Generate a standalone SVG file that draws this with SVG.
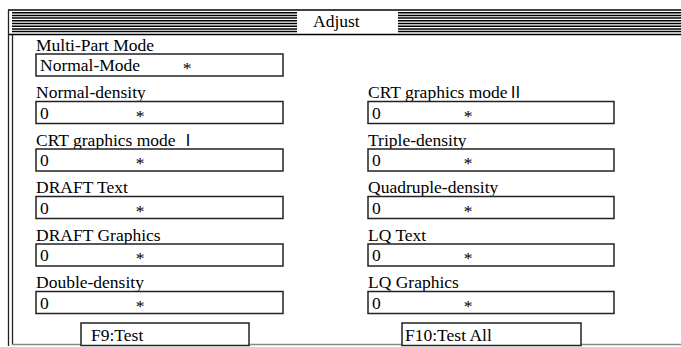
<svg xmlns="http://www.w3.org/2000/svg" width="681" height="347" viewBox="0 0 681 347">
<style>
text{font-family:"Liberation Serif","Times New Roman","DejaVu Serif",serif;font-size:17.5px;fill:#000}
.cjk{font-family:"Noto Sans CJK JP","Noto Sans CJK SC",serif;font-size:16px}
.box{fill:#fff;stroke:#222;stroke-width:1.5}
.stripe{stroke:#000;stroke-width:1.5}
</style>
<rect width="681" height="347" fill="#fff"/>
<g id="frame">
<g id="stripes-left">
<line class="stripe" x1="12" y1="12.7" x2="297" y2="12.7"/>
<line class="stripe" x1="12" y1="15.4" x2="297" y2="15.4"/>
<line class="stripe" x1="12" y1="18.1" x2="297" y2="18.1"/>
<line class="stripe" x1="12" y1="20.8" x2="297" y2="20.8"/>
<line class="stripe" x1="12" y1="23.5" x2="297" y2="23.5"/>
<line class="stripe" x1="12" y1="26.2" x2="297" y2="26.2"/>
<line class="stripe" x1="12" y1="28.9" x2="297" y2="28.9"/>
<line class="stripe" x1="12" y1="31.6" x2="297" y2="31.6"/>
</g>
<g id="stripes-right">
<line class="stripe" x1="398" y1="12.7" x2="681" y2="12.7"/>
<line class="stripe" x1="398" y1="15.4" x2="681" y2="15.4"/>
<line class="stripe" x1="398" y1="18.1" x2="681" y2="18.1"/>
<line class="stripe" x1="398" y1="20.8" x2="681" y2="20.8"/>
<line class="stripe" x1="398" y1="23.5" x2="681" y2="23.5"/>
<line class="stripe" x1="398" y1="26.2" x2="681" y2="26.2"/>
<line class="stripe" x1="398" y1="28.9" x2="681" y2="28.9"/>
<line class="stripe" x1="398" y1="31.6" x2="681" y2="31.6"/>
</g>
<line x1="8" y1="10" x2="681" y2="10" stroke="#000" stroke-width="1.5"/>
<line x1="8" y1="34.5" x2="681" y2="34.5" stroke="#000" stroke-width="1.5"/>
<line x1="8.5" y1="10" x2="8.5" y2="346" stroke="#222" stroke-width="1.3"/>
<line x1="12.5" y1="35" x2="12.5" y2="345" stroke="#222" stroke-width="1.3"/>
<line x1="12" y1="344.5" x2="681" y2="344.5" stroke="#888" stroke-width="1.3"/>
<text x="313" y="26.5">Adjust</text>
</g>

<g id="multi-part-mode">
<text x="36" y="50.5" font-size="16.5">Multi-Part Mode</text>
<rect class="box" x="36" y="54" width="247" height="22"/>
<text x="40" y="71">Normal-Mode</text>
<text x="187" y="74" text-anchor="middle">*</text>
</g>

<g id="normal-density">
<text x="36" y="98">Normal-density</text>
<rect class="box" x="36" y="101.5" width="247" height="22"/>
<text x="40" y="118.5">0</text>
<text x="140" y="121.5" text-anchor="middle">*</text>
</g>
<g id="crt-mode-1">
<text x="36" y="145.5">CRT graphics mode <tspan class="cjk">Ⅰ</tspan></text>
<rect class="box" x="36" y="149" width="247" height="22"/>
<text x="40" y="166">0</text>
<text x="140" y="169" text-anchor="middle">*</text>
</g>
<g id="draft-text">
<text x="36" y="193">DRAFT Text</text>
<rect class="box" x="36" y="196.5" width="247" height="22"/>
<text x="40" y="213.5">0</text>
<text x="140" y="216.5" text-anchor="middle">*</text>
</g>
<g id="draft-graphics">
<text x="36" y="240.5">DRAFT Graphics</text>
<rect class="box" x="36" y="244" width="247" height="22"/>
<text x="40" y="261">0</text>
<text x="140" y="264" text-anchor="middle">*</text>
</g>
<g id="double-density">
<text x="36" y="288">Double-density</text>
<rect class="box" x="36" y="291.5" width="247" height="22"/>
<text x="40" y="308.5">0</text>
<text x="140" y="311.5" text-anchor="middle">*</text>
</g>

<g id="crt-mode-2">
<text x="368" y="98">CRT graphics mode<tspan class="cjk">Ⅱ</tspan></text>
<rect class="box" x="368" y="101.5" width="246" height="22"/>
<text x="372" y="118.5">0</text>
<text x="468" y="121.5" text-anchor="middle">*</text>
</g>
<g id="triple-density">
<text x="368" y="145.5">Triple-density</text>
<rect class="box" x="368" y="149" width="246" height="22"/>
<text x="372" y="166">0</text>
<text x="468" y="169" text-anchor="middle">*</text>
</g>
<g id="quadruple-density">
<text x="368" y="193">Quadruple-density</text>
<rect class="box" x="368" y="196.5" width="246" height="22"/>
<text x="372" y="213.5">0</text>
<text x="468" y="216.5" text-anchor="middle">*</text>
</g>
<g id="lq-text">
<text x="368" y="240.5">LQ Text</text>
<rect class="box" x="368" y="244" width="246" height="22"/>
<text x="372" y="261">0</text>
<text x="468" y="264" text-anchor="middle">*</text>
</g>
<g id="lq-graphics">
<text x="368" y="288">LQ Graphics</text>
<rect class="box" x="368" y="291.5" width="246" height="22"/>
<text x="372" y="308.5">0</text>
<text x="468" y="311.5" text-anchor="middle">*</text>
</g>

<g id="btn-f9">
<rect class="box" x="81" y="323" width="168" height="22.5"/>
<text x="91" y="341">F9:Test</text>
</g>
<g id="btn-f10">
<rect class="box" x="402" y="323" width="179" height="22.5"/>
<text x="405" y="341">F10:Test All</text>
</g>
</svg>
